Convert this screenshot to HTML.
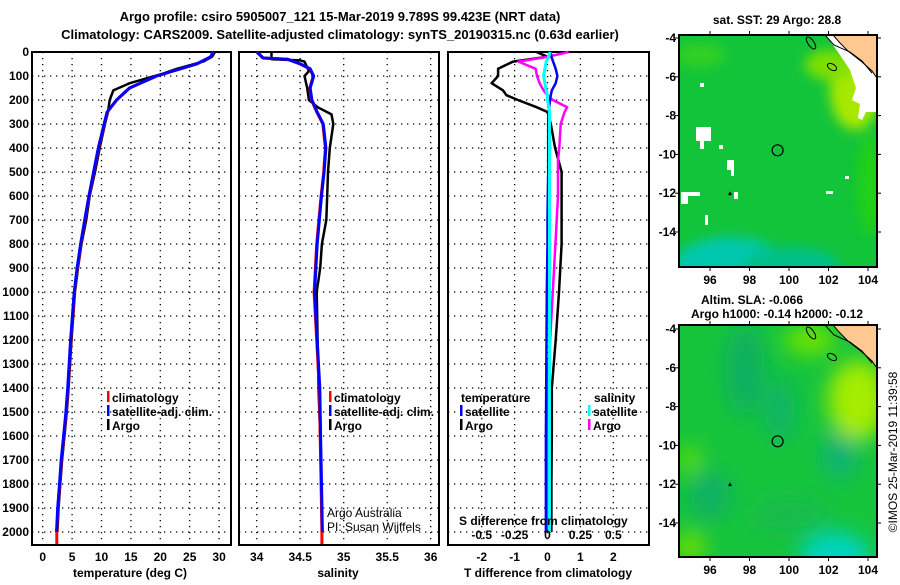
<!DOCTYPE html>
<html><head><meta charset="utf-8"><style>
body{margin:0;background:#fff}
svg text{font-family:"Liberation Sans",sans-serif;font-weight:bold;font-size:12px;fill:#000}
</style></head><body>
<svg id="fig" width="900" height="580" viewBox="0 0 900 580" xmlns="http://www.w3.org/2000/svg">
<rect width="900" height="580" fill="#fff"/>
<text x="340" y="21" text-anchor="middle" style="font-size:13px">Argo profile: csiro 5905007_121 15-Mar-2019 9.789S 99.423E (NRT data)</text>
<text x="340" y="39" text-anchor="middle" style="font-size:13px">Climatology: CARS2009. Satellite-adjusted climatology: synTS_20190315.nc (0.63d earlier)</text>
<g id="plots"></g>
<g id="maps"></g>
<text transform="translate(897,452) rotate(-90)" text-anchor="middle" style="font-weight:normal;font-size:12px">©IMOS 25-Mar-2019 11:39:58</text>
</svg>
<script>
// ---- data ----
const depthTicks=[0,100,200,300,400,500,600,700,800,900,1000,1100,1200,1300,1400,1500,1600,1700,1800,1900,2000];
const tempTicks=[0,5,10,15,20,25,30];
const salTicks=[34,34.5,35,35.5,36];
const tdiffTicks=[-2,-1,0,1,2];
const sdiffTicks=[-0.5,-0.25,0,0.25,0.5];
const argoDepth=[0,20,40,70,90,130,160,200,250,300,400,500,600,700,800,900,1000,1200,1400,1500,1600,1700,1800,1900,2000];
const argoTemp=[29.3,28.8,27.3,22.8,20.5,14.8,12.0,11.4,11.1,10.6,9.7,8.9,8.0,7.4,6.6,6.0,5.5,4.9,4.4,4.1,3.7,3.3,3.0,2.7,2.5];
const climDepth=[0,20,50,100,150,200,250,300,400,500,600,700,800,900,1000,1200,1400,1500,1600,1700,1800,1900,2000,2050];
const climTemp=[29.0,28.6,26.2,19.4,14.8,12.6,11.0,10.5,9.5,8.7,7.9,7.2,6.5,5.9,5.4,4.8,4.3,4.0,3.6,3.2,2.9,2.6,2.4,2.4];
const argoSalDepth=[0,30,35,40,80,100,150,200,230,260,300,400,500,600,700,800,900,1000,1200,1400,1600,1800,2000];
const argoSal=[34.17,34.17,34.5,34.55,34.6,34.55,34.58,34.6,34.7,34.86,34.88,34.84,34.82,34.81,34.8,34.75,34.73,34.69,34.7,34.71,34.73,34.74,34.75];
const climSalDepth=[0,25,30,50,70,100,150,200,250,300,400,500,600,800,1000,1200,1400,1600,1800,2000,2050];
const climSal=[34.0,34.07,34.35,34.5,34.61,34.65,34.61,34.63,34.69,34.76,34.79,34.77,34.74,34.69,34.66,34.69,34.72,34.73,34.74,34.75,34.75];
const diffDepth=[0,20,40,70,100,130,160,180,200,230,250,300,400,450,500,600,700,800,1000,1200,1400,1600,1800,2000];
const argoTdiff=[-0.33,0,-1.05,-1.5,-1.5,-1.7,-1.35,-1.25,-0.9,-0.33,0,0.1,0.23,0.33,0.43,0.43,0.43,0.43,0.35,0.25,0.13,0.13,0.12,0.12];
const satTdiff=[0.1,0.12,0.17,0.25,0.3,0.25,0.13,0.1,0.08,0.05,0.03,0.02,0.02,0.02,0.02,0.01,0.0,0.0,-0.02,-0.03,-0.04,-0.05,-0.05,-0.05];
const argoSdiff=[0.16,0,-0.22,-0.09,-0.08,-0.06,-0.03,0,0.04,0.15,0.13,0.1,0.09,0.08,0.08,0.08,0.07,0.06,0.04,0.02,0.0,0.0,0.0,0.0];
const satSdiff=[0.02,0.01,-0.01,-0.02,-0.03,-0.02,-0.01,0,0.0,0.01,0.015,0.015,0.015,0.015,0.015,0.015,0.015,0.015,0.015,0.015,0.015,0.015,0.015,0.015];
const mapLonTicks=[96,98,100,102,104];
const mapLatTicks=[-4,-6,-8,-10,-12,-14];
const argoLon=99.423, argoLat=-9.789;

const NS='http://www.w3.org/2000/svg';
const plots=document.getElementById('plots');
const maps=document.getElementById('maps');
function mk(tag,attrs,parent,txt){const e=document.createElementNS(NS,tag);for(const k in attrs)e.setAttribute(k,attrs[k]);if(txt!==undefined)e.textContent=txt;parent.appendChild(e);return e;}
const yTop=52,yBot=545;
const yD=d=>yTop+d*0.24;
const panels=[
 {x0:32,x1:231,sx:v=>42.7+v*5.88,ticks:tempTicks,name:'temperature-panel',title:'temperature (deg C)',tc:130},
 {x0:239,x1:439,sx:v=>256.7+(v-34)*87,ticks:salTicks,name:'salinity-panel',title:'salinity',tc:338},
 {x0:448,x1:649,sx:v=>547.5+v*32.9,ticks:tdiffTicks,name:'difference-panel',title:'T difference from climatology',tc:548}
];
const sxS=v=>547.5+v*4*32.9;
panels.forEach((p,i)=>{
 const g=mk('g',{},plots);
 
 
 depthTicks.forEach(d=>{const l=mk('line',{x1:p.x0,x2:p.x1,y1:yD(d),y2:yD(d),stroke:'#000','stroke-width':1.3,'stroke-dasharray':'1.3 4.7'},g);
  });
 p.ticks.forEach(t=>{const x=p.sx(t);
  const l=mk('line',{x1:x,x2:x,y1:yTop,y2:yBot,stroke:'#000','stroke-width':1.3,'stroke-dasharray':'1.3 4.7'},g);
  
  const tx=mk('text',{x:x,y:561,'text-anchor':'middle'},g,String(t));
  });
 const fr=mk('rect',{x:p.x0,y:yTop,width:p.x1-p.x0,height:yBot-yTop,fill:'none',stroke:'#000','stroke-width':2},g);
 
 const at=mk('text',{x:p.tc,y:577,'text-anchor':'middle'},g,p.title);
 
});
depthTicks.forEach(d=>{const t=mk('text',{x:29,y:yD(d)+4,'text-anchor':'end'},plots,String(d));
 });
function line(xs,ds,sx,color,w,name){
 const pts=xs.map((v,i)=>sx(v).toFixed(1)+','+yD(ds[i]).toFixed(1)).join(' ');
 const l=mk('polyline',{points:pts,fill:'none',stroke:color,'stroke-width':w,'stroke-linejoin':'round'},plots);
 
}
const P=panels;
line(argoTemp,argoDepth,P[0].sx,'#000',2.5,'argo-temperature-line');
line(climTemp,climDepth,P[0].sx,'#f00',3,'climatology-temperature-line');
line(climTemp.slice(0,-1).map(v=>v-0.05),climDepth.slice(0,-1),P[0].sx,'#00f',3,'satellite-temperature-line');
line(argoSal,argoSalDepth,P[1].sx,'#000',2.5,'argo-salinity-line');
line(climSal,climSalDepth,P[1].sx,'#f00',3,'climatology-salinity-line');
line(climSal.slice(0,-1).map(v=>v+0.005),climSalDepth.slice(0,-1),P[1].sx,'#00f',3,'satellite-salinity-line');
line(argoTdiff,diffDepth,P[2].sx,'#000',2.5,'argo-tdiff-line');
line(argoSdiff,diffDepth,sxS,'#f0f',2.5,'argo-sdiff-line');
line(satTdiff,diffDepth,P[2].sx,'#00f',2.5,'satellite-tdiff-line');
line(satSdiff,diffDepth,sxS,'#0ff',3,'satellite-sdiff-line');
// legends
function leg(x,y,color,label,name){
 const g=mk('g',{},plots);
 if(color)mk('rect',{x:x,y:y-11,width:2.5,height:11,fill:color},g);
 mk('text',{x:x+(color?5:0),y:y},g,label);
}
leg(107,402,'#f00','climatology','legend-climatology');
leg(107,416,'#00f','satellite-adj. clim.','legend-satellite-adj');
leg(107,430,'#000','Argo','legend-argo');
leg(329,402,'#f00','climatology','legend-climatology-sal');
leg(329,416,'#00f','satellite-adj. clim.','legend-satellite-adj-sal');
leg(329,430,'#000','Argo','legend-argo-sal');
leg(461,402,null,'temperature','legend-temperature-header');
leg(460,416,'#00f','satellite','legend-t-satellite');
leg(460,430,'#000','Argo','legend-t-argo');
leg(594,402,null,'salinity','legend-salinity-header');
leg(588,416,'#0ff','satellite','legend-s-satellite');
leg(588,430,'#f0f','Argo','legend-s-argo');
let t=mk('text',{x:459,y:525},plots,'S difference from climatology');
sdiffTicks.forEach(v=>{const e=mk('text',{x:sxS(v),y:539,'text-anchor':'middle'},plots,String(v));
 });
t=mk('text',{x:327,y:517,style:'font-weight:normal'},plots,'Argo Australia');
t=mk('text',{x:327,y:531,style:'font-weight:normal'},plots,'PI: Susan Wijffels');

// ---- maps ----
function drawMap(y0,y1,latTop,kind,name){
 const x0=679,x1=877;
 const lx=lon=>710+(lon-96)*19.75;
 const ly=lat=>latTop+(-4-lat)*19.4;
 const g=mk('g',{},maps);
 const id='clip'+kind;
 const cp=mk('clipPath',{id:id},g);mk('rect',{x:x0,y:y0,width:x1-x0,height:y1-y0},cp);
 const c=mk('g',{'clip-path':'url(#'+id+')'},g);
 const defs=mk('defs',{},g);
 const f=mk('filter',{id:'blur'+kind,x:'-50%',y:'-50%',width:'200%',height:'200%'},defs);
 mk('feGaussianBlur',{stdDeviation:kind==='sst'?6:10},f);
 if(kind==='sst'){
  mk('rect',{x:x0,y:y0,width:x1-x0,height:y1-y0,fill:'#12c43a'},c);
  const b=mk('g',{filter:'url(#blur'+kind+')'},c);
  mk('ellipse',{cx:730,cy:y1+5,rx:60,ry:35,fill:'#00c8b0'},b);
  mk('ellipse',{cx:790,cy:y1,rx:50,ry:20,fill:'#06c08a'},b);
  mk('ellipse',{cx:855,cy:y0+55,rx:25,ry:40,fill:'#a8e800'},b);
  mk('ellipse',{cx:830,cy:y0+30,rx:25,ry:15,fill:'#7ee000'},b);
  mk('ellipse',{cx:700,cy:y0+20,rx:25,ry:12,fill:'#30d020'},b);
  mk('ellipse',{cx:870,cy:y0+150,rx:12,ry:50,fill:'#22d018'},b);
  [[696,127,15,14],[700,141,4,8],[700,83,4,4],[719,145,4,4],[727,160,7,10],[731,170,3,6],[681,192,19,4],[681,192,7,12],[705,215,3,10],[734,192,4,7],[826,191,7,3],[845,176,4,3]].forEach(r=>{
   const e=mk('rect',{x:r[0],y:r[1],width:r[2],height:r[3],fill:'#fff'},c);
   });
  mk('polygon',{points:'826,35 877,35 877,112 866,112 862,120 858,118 860,104 852,100 856,88 850,70 840,55',fill:'#fff'},c);
 } else {
  mk('rect',{x:x0,y:y0,width:x1-x0,height:y1-y0,fill:'#16c43c'},c);
  const b=mk('g',{filter:'url(#blur'+kind+')'},c);
  mk('ellipse',{cx:745,cy:y0+45,rx:20,ry:45,fill:'#10b060'},b);
  mk('ellipse',{cx:780,cy:y0+85,rx:15,ry:30,fill:'#10b468'},b);
  mk('ellipse',{cx:710,cy:y0+170,rx:20,ry:25,fill:'#10b065'},b);
  mk('ellipse',{cx:840,cy:y0+130,rx:18,ry:25,fill:'#10b474'},b);
  mk('ellipse',{cx:835,cy:y1,rx:35,ry:25,fill:'#00d4c0'},b);
  mk('ellipse',{cx:858,cy:y0+75,rx:30,ry:40,fill:'#a4ec00'},b);
  mk('ellipse',{cx:810,cy:y0+15,rx:25,ry:15,fill:'#70e400'},b);
  mk('ellipse',{cx:690,cy:y0+135,rx:10,ry:15,fill:'#60e000'},b);
  mk('ellipse',{cx:690,cy:y1-10,rx:15,ry:15,fill:'#70e000'},b);
  mk('ellipse',{cx:790,cy:y0+190,rx:40,ry:20,fill:'#18bc4c'},b);
 }
 const land=mk('polygon',{points:`833,${y0} 877,${y0} 877,${y0+43} 872,${y0+36} 862,${y0+27} 848,${y0+16} 840,${y0+8}`,fill:'#ffc890',stroke:'#000','stroke-width':1},c);
 
 mk('path',{d:`M825,${y0} L834,${y0+10} L850,${y0+17} L862,${y0+26} L872,${y0+38}`,fill:'none',stroke:'#000','stroke-width':1},c);
 mk('ellipse',{cx:811,cy:y0+8,rx:3,ry:7,transform:`rotate(-35 811 ${y0+8})`,fill:'none',stroke:'#000','stroke-width':1},c);
 mk('ellipse',{cx:832,cy:y0+32,rx:5,ry:3,transform:`rotate(30 832 ${y0+32})`,fill:'none',stroke:'#000','stroke-width':1},c);
 mk('polygon',{points:`728,${ly(-12.1)} 732,${ly(-12.1)} 730,${ly(-11.9)}`,fill:'#000'},c);
 const circ=mk('circle',{cx:lx(argoLon),cy:ly(argoLat),r:5.5,fill:'none',stroke:'#000','stroke-width':1.2},g);
 
 const fr=mk('rect',{x:x0,y:y0,width:x1-x0,height:y1-y0,fill:'none',stroke:'#000','stroke-width':2},g);
 
 mapLonTicks.forEach(v=>{const x=lx(v);
  mk('line',{x1:x,x2:x,y1:y0,y2:y0-4,stroke:'#000'},g);mk('line',{x1:x,x2:x,y1:y1,y2:y1+4,stroke:'#000'},g);
  const e=mk('text',{x:x,y:y1+17,'text-anchor':'middle'},g,String(v));
  });
 mapLatTicks.forEach(v=>{const y=ly(v);
  mk('line',{x1:x0,x2:x0-4,y1:y,y2:y,stroke:'#000'},g);mk('line',{x1:x1,x2:x1+4,y1:y,y2:y,stroke:'#000'},g);
  const e=mk('text',{x:676,y:y+4,'text-anchor':'end'},g,String(v));
  });
}
drawMap(35,267,38,'sst','sst-map');
drawMap(325,557,329,'sla','sla-map');
t=mk('text',{x:777,y:24,'text-anchor':'middle'},maps,'sat. SST: 29 Argo: 28.8');
t=mk('text',{x:752,y:304,'text-anchor':'middle'},maps,'Altim. SLA: -0.066');
t=mk('text',{x:777,y:318,'text-anchor':'middle'},maps,'Argo h1000: -0.14 h2000: -0.12');
</script>
</body></html>
